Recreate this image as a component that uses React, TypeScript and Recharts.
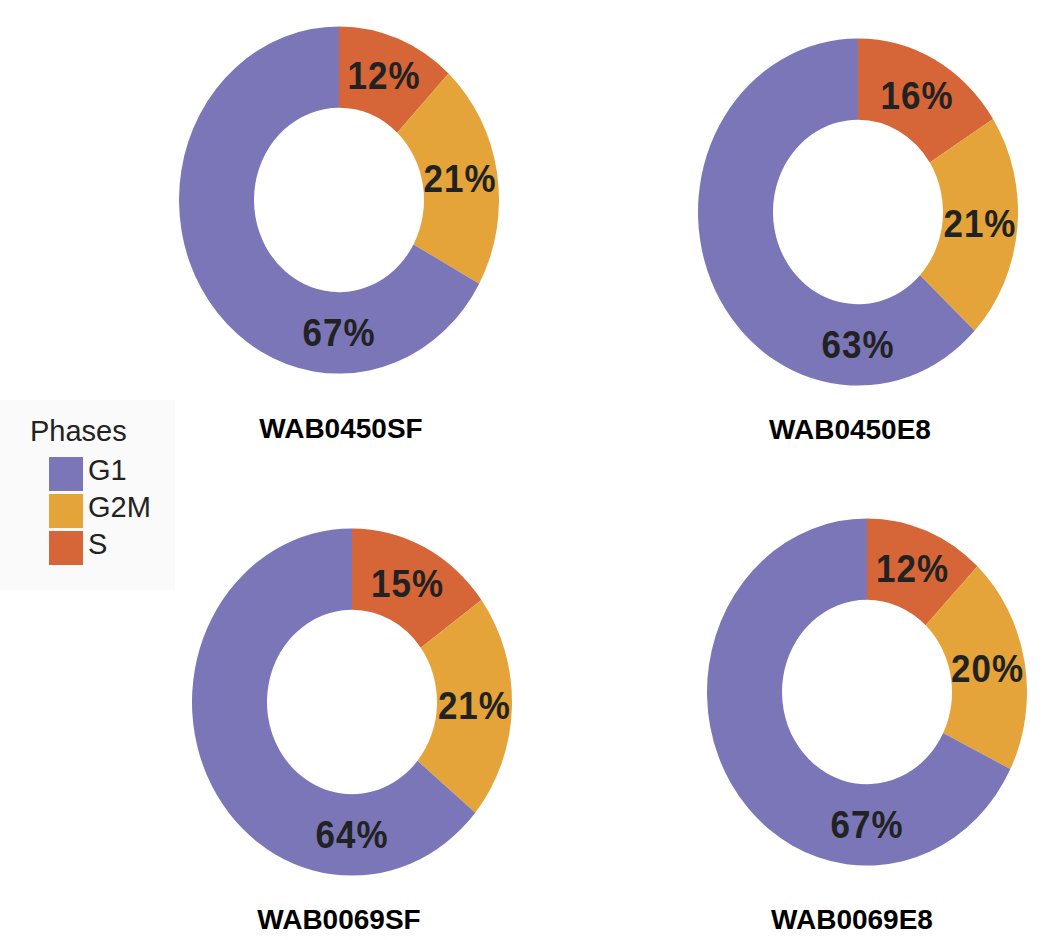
import { PieChart, Pie, Cell } from 'recharts';

const samples = ['WAB0450SF', 'WAB0450E8', 'WAB0069SF', 'WAB0069E8'];
const phases = ['G1', 'G2M', 'S'];
const g1Values = [67, 63, 64, 67];
const g2mValues = [21, 21, 21, 20];
const sValues = [12, 16, 15, 12];

const COLORS: Record<string, string> = {
  G1: '#7a76b8',
  G2M: '#e5a43a',
  S: '#d66638',
};

// pie centres and title positions on the page
const PANELS = [
  { cx: 339, cy: 200, titleX: 341, titleY: 415 },
  { cx: 858, cy: 212, titleX: 850, titleY: 416 },
  { cx: 352, cy: 702, titleX: 339, titleY: 906 },
  { cx: 867, cy: 692, titleX: 852, titleY: 906 },
];

const SIZE = 340;
const RAD = Math.PI / 180;

const renderLabel = (props: any) => {
  const { cx, cy, midAngle, innerRadius, outerRadius, percent, value } = props;
  const r = (innerRadius + outerRadius) / 2;
  // the big slice gets its label at the bottom of the ring
  const angle = percent > 0.5 ? -90 : midAngle;
  const x = cx + r * Math.cos(-angle * RAD);
  const y = cy + r * Math.sin(-angle * RAD);
  return (
    <text
      x={x}
      y={y}
      fill="#222"
      textAnchor="middle"
      dominantBaseline="central"
      fontFamily="'Liberation Sans', Arial, sans-serif"
      fontWeight="bold"
      fontSize={35}
      letterSpacing={1}
    >
      {`${value}%`}
    </text>
  );
};

function Donut({ index }: { index: number }) {
  const data = [
    { phase: 'S', value: sValues[index] },
    { phase: 'G2M', value: g2mValues[index] },
    { phase: 'G1', value: g1Values[index] },
  ];
  const p = PANELS[index];
  return (
    <>
      <div
        style={{
          position: 'absolute',
          left: p.cx - SIZE / 2,
          top: p.cy - SIZE / 2,
          width: SIZE,
          height: SIZE,
          transform: 'scaleY(1.085)',
          transformOrigin: 'center',
        }}
      >
        <PieChart width={SIZE} height={SIZE} margin={{ top: 0, right: 0, bottom: 0, left: 0 }}>
          <Pie
            data={data}
            dataKey="value"
            nameKey="phase"
            cx={SIZE / 2}
            cy={SIZE / 2}
            innerRadius={85}
            outerRadius={160}
            startAngle={90}
            endAngle={-270}
            stroke="none"
            label={renderLabel}
            labelLine={false}
            isAnimationActive={false}
          >
            {data.map((d) => (
              <Cell key={d.phase} fill={COLORS[d.phase]} />
            ))}
          </Pie>
        </PieChart>
      </div>
      <div
        style={{
          position: 'absolute',
          left: p.titleX - 120,
          top: p.titleY,
          width: 240,
          textAlign: 'center',
          fontFamily: "'Liberation Sans', Arial, sans-serif",
          fontWeight: 'bold',
          fontSize: 28,
          lineHeight: '28px',
          color: '#000',
        }}
      >
        {samples[index]}
      </div>
    </>
  );
}

function App() {
  return (
    <div
      style={{
        position: 'absolute',
        left: 0,
        top: 0,
        width: 1046,
        height: 940,
        background: '#fff',
        fontFamily: "'Liberation Sans', Arial, sans-serif",
      }}
    >
      <div
        style={{
          position: 'absolute',
          left: 0,
          top: 400,
          width: 175,
          height: 190,
          background: '#fafafa',
        }}
      />
      <div
        style={{
          position: 'absolute',
          left: 30,
          top: 417,
          fontSize: 29,
          lineHeight: '29px',
          color: '#222',
        }}
      >
        Phases
      </div>
      <div style={{ position: 'absolute', left: 49, top: 457 }}>
        {phases.map((ph) => (
          <div key={ph} style={{ display: 'flex', alignItems: 'flex-start', height: 37 }}>
            <div style={{ width: 34, height: 34, background: COLORS[ph] }} />
            <div
              style={{
                marginLeft: 5,
                fontSize: 29,
                lineHeight: '34px',
                color: '#222',
                position: 'relative',
                top: -4,
              }}
            >
              {ph}
            </div>
          </div>
        ))}
      </div>
      {samples.map((s, i) => (
        <Donut key={s} index={i} />
      ))}
    </div>
  );
}

export default App;
